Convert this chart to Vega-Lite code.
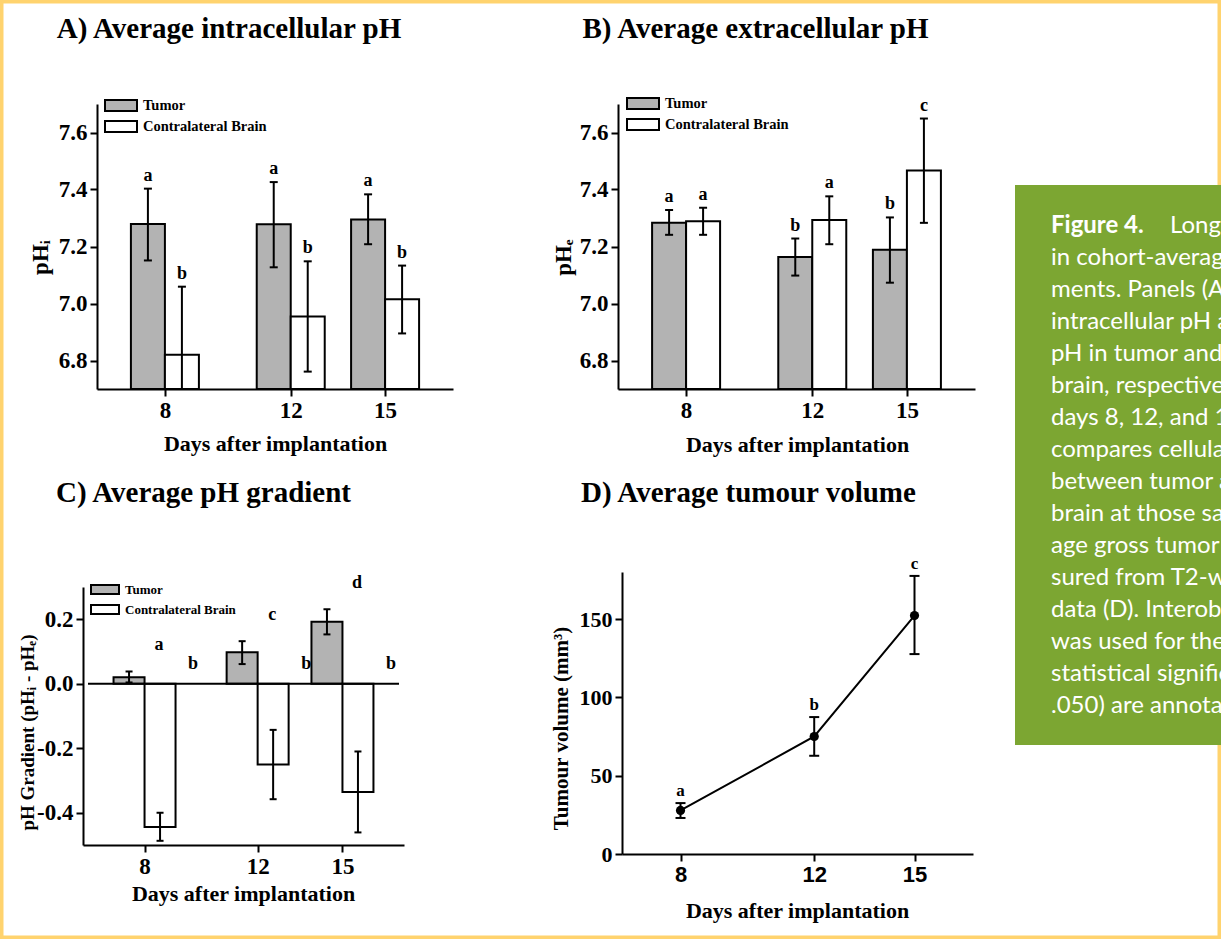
{
  "$schema": "https://vega.github.io/schema/vega-lite/v6.json",
  "width": 1221,
  "height": 939,
  "autosize": "none",
  "padding": 0,
  "background": "white",
  "view": {"stroke": "#ffd36e", "strokeWidth": 7, "fill": "white"},
  "config": {
    "axis": {"grid": false, "domainColor": "black", "domainWidth": 2, "tickColor": "black", "tickWidth": 2, "tickSize": 7, "labelFont": "Liberation Serif", "labelFontWeight": "bold", "labelFontSize": 23, "labelColor": "black", "labelPadding": 3, "labelFlush": false, "labelOverlap": false, "titleFont": "Liberation Serif", "titleFontWeight": "bold", "titleFontSize": 22, "titleColor": "black"},
    "text": {"font": "Liberation Serif", "fontWeight": "bold", "color": "black"}
  },
  "datasets": {
    "phi": [
      {"day": 8, "group": "Tumor", "value": 7.279, "lo": 7.151, "hi": 7.403, "letter": "a"},
      {"day": 8, "group": "Contralateral Brain", "value": 6.82, "lo": 6.581, "hi": 7.059, "letter": "b"},
      {"day": 12, "group": "Tumor", "value": 7.278, "lo": 7.127, "hi": 7.426, "letter": "a"},
      {"day": 12, "group": "Contralateral Brain", "value": 6.954, "lo": 6.761, "hi": 7.148, "letter": "b"},
      {"day": 15, "group": "Tumor", "value": 7.295, "lo": 7.208, "hi": 7.383, "letter": "a"},
      {"day": 15, "group": "Contralateral Brain", "value": 7.015, "lo": 6.895, "hi": 7.133, "letter": "b"}
    ],
    "phe": [
      {"day": 8, "group": "Tumor", "value": 7.283, "lo": 7.241, "hi": 7.328, "letter": "a"},
      {"day": 8, "group": "Contralateral Brain", "value": 7.289, "lo": 7.241, "hi": 7.336, "letter": "a"},
      {"day": 12, "group": "Tumor", "value": 7.163, "lo": 7.098, "hi": 7.228, "letter": "b"},
      {"day": 12, "group": "Contralateral Brain", "value": 7.293, "lo": 7.208, "hi": 7.376, "letter": "a"},
      {"day": 15, "group": "Tumor", "value": 7.189, "lo": 7.073, "hi": 7.302, "letter": "b"},
      {"day": 15, "group": "Contralateral Brain", "value": 7.467, "lo": 7.283, "hi": 7.649, "letter": "c"}
    ],
    "grad": [
      {"day": 8, "group": "Tumor", "value": 0.02, "lo": 0.004, "hi": 0.038, "letter": "a"},
      {"day": 8, "group": "Contralateral Brain", "value": -0.444, "lo": -0.487, "hi": -0.4, "letter": "b"},
      {"day": 12, "group": "Tumor", "value": 0.098, "lo": 0.061, "hi": 0.132, "letter": "c"},
      {"day": 12, "group": "Contralateral Brain", "value": -0.25, "lo": -0.358, "hi": -0.143, "letter": "b"},
      {"day": 15, "group": "Tumor", "value": 0.192, "lo": 0.153, "hi": 0.231, "letter": "d"},
      {"day": 15, "group": "Contralateral Brain", "value": -0.336, "lo": -0.461, "hi": -0.21, "letter": "b"}
    ],
    "vol": [
      {"day": 8, "value": 27.8, "lo": 23.0, "hi": 32.5, "letter": "a"},
      {"day": 12, "value": 75.0, "lo": 62.7, "hi": 87.4, "letter": "b"},
      {"day": 15, "value": 152.2, "lo": 127.6, "hi": 177.5, "letter": "c"}
    ],
    "caption": [
      {"line": 0, "part": "label", "text": "Figure 4."},
      {"line": 0, "part": "lead", "text": "Longitudinal changes"},
      {"line": 1, "part": "body", "text": "in cohort-averaged pH measure-"},
      {"line": 2, "part": "body", "text": "ments. Panels (A) and (B) show"},
      {"line": 3, "part": "body", "text": "intracellular pH and extracellular"},
      {"line": 4, "part": "body", "text": "pH in tumor and contralateral"},
      {"line": 5, "part": "body", "text": "brain, respectively, measured at"},
      {"line": 6, "part": "body", "text": "days 8, 12, and 15. Panel (C)"},
      {"line": 7, "part": "body", "text": "compares cellular pH gradients"},
      {"line": 8, "part": "body", "text": "between tumor and contralateral"},
      {"line": 9, "part": "body", "text": "brain at those same days. Aver-"},
      {"line": 10, "part": "body", "text": "age gross tumor volume mea-"},
      {"line": 11, "part": "body", "text": "sured from T2-weighted MRI"},
      {"line": 12, "part": "body", "text": "data (D). Interobserver agreement"},
      {"line": 13, "part": "body", "text": "was used for the analysis, and"},
      {"line": 14, "part": "body", "text": "statistical significance (p <"},
      {"line": 15, "part": "body", "text": ".050) are annotated with letters."}
    ]
  },
  "layer": [
    {
      "data": {"name": "phi"},
      "layer": [
        {"transform": [{"filter": "datum.group === 'Tumor'"}],
          "mark": {"type": "bar", "orient": "vertical", "width": 34, "xOffset": -17, "stroke": "black", "strokeWidth": 2},
          "encoding": {
            "x": {"field": "day", "type": "quantitative",
              "scale": {"domain": [6, 17], "range": [97, 453], "nice": false, "zero": false},
              "axis": {"orient": "bottom", "offset": -550, "values": [8, 12, 15], "format": "d", "title": "Days after implantation", "titleX": 275, "titleY": 61, "titleAlign": "center", "titleBaseline": "alphabetic", "titleAngle": 0}},
            "y": {"field": "value", "type": "quantitative",
              "scale": {"domain": [6.7, 7.7], "range": [389, 104], "nice": false, "zero": false, "clamp": true},
              "axis": {"orient": "left", "offset": -97, "values": [6.8, 7.0, 7.2, 7.4, 7.6], "format": ".1f", "title": "pHᵢ", "titleX": -50, "titleY": 257, "titleAngle": -90, "titleAlign": "center", "titleBaseline": "alphabetic", "titleFontSize": 23}},
            "y2": {"datum": 6.7},
            "fill": {"field": "group", "type": "nominal",
              "scale": {"domain": ["Tumor", "Contralateral Brain"], "range": ["#b3b3b3", "#ffffff"]},
              "legend": {"orient": "none", "legendX": 104, "legendY": 99, "title": null, "padding": 0, "direction": "vertical", "symbolType": "M-1,-0.344H1V0.344H-1Z", "symbolSize": 1024, "symbolStrokeColor": "black", "symbolStrokeWidth": 2, "clipHeight": 13, "rowPadding": 6, "labelOffset": 5, "labelFont": "Liberation Serif", "labelFontWeight": "bold", "labelFontSize": 14.5, "labelColor": "black"}}
          }},
        {"transform": [{"filter": "datum.group !== 'Tumor'"}],
          "mark": {"type": "bar", "orient": "vertical", "width": 34, "xOffset": 17, "stroke": "black", "strokeWidth": 2},
          "encoding": {"x": {"field": "day", "type": "quantitative"}, "y": {"field": "value", "type": "quantitative"}, "y2": {"datum": 6.7}, "fill": {"field": "group", "type": "nominal"}}},
        {"transform": [{"filter": "datum.group === 'Tumor'"}],
          "mark": {"type": "rule", "xOffset": -17, "strokeWidth": 2, "color": "black"},
          "encoding": {"x": {"field": "day", "type": "quantitative"}, "y": {"field": "lo", "type": "quantitative"}, "y2": {"field": "hi"}}},
        {"transform": [{"filter": "datum.group !== 'Tumor'"}],
          "mark": {"type": "rule", "xOffset": 17, "strokeWidth": 2, "color": "black"},
          "encoding": {"x": {"field": "day", "type": "quantitative"}, "y": {"field": "lo", "type": "quantitative"}, "y2": {"field": "hi"}}},
        {"transform": [{"filter": "datum.group === 'Tumor'"}, {"fold": ["lo", "hi"], "as": ["bound", "ph"]}],
          "mark": {"type": "tick", "orient": "horizontal", "size": 8, "thickness": 2, "xOffset": -17, "color": "black", "opacity": 1},
          "encoding": {"x": {"field": "day", "type": "quantitative"}, "y": {"field": "ph", "type": "quantitative"}}},
        {"transform": [{"filter": "datum.group !== 'Tumor'"}, {"fold": ["lo", "hi"], "as": ["bound", "ph"]}],
          "mark": {"type": "tick", "orient": "horizontal", "size": 8, "thickness": 2, "xOffset": 17, "color": "black", "opacity": 1},
          "encoding": {"x": {"field": "day", "type": "quantitative"}, "y": {"field": "ph", "type": "quantitative"}}},
        {"transform": [{"filter": "datum.group === 'Tumor'"}],
          "mark": {"type": "text", "xOffset": -17, "dy": -13, "baseline": "middle", "align": "center", "fontSize": 18},
          "encoding": {"x": {"field": "day", "type": "quantitative"}, "y": {"field": "hi", "type": "quantitative"}, "text": {"field": "letter"}}},
        {"transform": [{"filter": "datum.group !== 'Tumor'"}],
          "mark": {"type": "text", "xOffset": 17, "dy": -13, "baseline": "middle", "align": "center", "fontSize": 18},
          "encoding": {"x": {"field": "day", "type": "quantitative"}, "y": {"field": "hi", "type": "quantitative"}, "text": {"field": "letter"}}},
        {"data": {"values": [{"title": "A) Average intracellular pH"}]},
          "mark": {"type": "text", "fontSize": 29, "baseline": "alphabetic", "align": "center", "dx": -46, "dy": -66},
          "encoding": {"x": {"datum": 11.5, "type": "quantitative"}, "y": {"datum": 7.7, "type": "quantitative"}, "text": {"field": "title"}}}
      ]
    },
    {
      "data": {"name": "phe"},
      "layer": [
        {"transform": [{"filter": "datum.group === 'Tumor'"}],
          "mark": {"type": "bar", "orient": "vertical", "width": 34, "xOffset": -17, "stroke": "black", "strokeWidth": 2},
          "encoding": {
            "x": {"field": "day", "type": "quantitative",
              "scale": {"domain": [6, 17], "range": [618, 975], "nice": false, "zero": false},
              "axis": {"orient": "bottom", "offset": -550, "values": [8, 12, 15], "format": "d", "title": "Days after implantation", "titleX": 797, "titleY": 62, "titleAlign": "center", "titleBaseline": "alphabetic", "titleAngle": 0}},
            "y": {"field": "value", "type": "quantitative",
              "scale": {"domain": [6.7, 7.7], "range": [389, 104], "nice": false, "zero": false},
              "axis": {"orient": "left", "offset": -618, "values": [6.8, 7.0, 7.2, 7.4, 7.6], "format": ".1f", "title": "pHₑ", "titleX": -48, "titleY": 257, "titleAngle": -90, "titleAlign": "center", "titleBaseline": "alphabetic", "titleFontSize": 23}},
            "y2": {"datum": 6.7},
            "fill": {"field": "group", "type": "nominal",
              "scale": {"domain": ["Tumor", "Contralateral Brain"], "range": ["#b3b3b3", "#ffffff"]},
              "legend": {"orient": "none", "legendX": 626, "legendY": 97, "title": null, "padding": 0, "direction": "vertical", "symbolType": "M-1,-0.344H1V0.344H-1Z", "symbolSize": 1024, "symbolStrokeColor": "black", "symbolStrokeWidth": 2, "clipHeight": 13, "rowPadding": 6, "labelOffset": 5, "labelFont": "Liberation Serif", "labelFontWeight": "bold", "labelFontSize": 14.5, "labelColor": "black"}}
          }},
        {"transform": [{"filter": "datum.group !== 'Tumor'"}],
          "mark": {"type": "bar", "orient": "vertical", "width": 34, "xOffset": 17, "stroke": "black", "strokeWidth": 2},
          "encoding": {"x": {"field": "day", "type": "quantitative"}, "y": {"field": "value", "type": "quantitative"}, "y2": {"datum": 6.7}, "fill": {"field": "group", "type": "nominal"}}},
        {"transform": [{"filter": "datum.group === 'Tumor'"}],
          "mark": {"type": "rule", "xOffset": -17, "strokeWidth": 2, "color": "black"},
          "encoding": {"x": {"field": "day", "type": "quantitative"}, "y": {"field": "lo", "type": "quantitative"}, "y2": {"field": "hi"}}},
        {"transform": [{"filter": "datum.group !== 'Tumor'"}],
          "mark": {"type": "rule", "xOffset": 17, "strokeWidth": 2, "color": "black"},
          "encoding": {"x": {"field": "day", "type": "quantitative"}, "y": {"field": "lo", "type": "quantitative"}, "y2": {"field": "hi"}}},
        {"transform": [{"filter": "datum.group === 'Tumor'"}, {"fold": ["lo", "hi"], "as": ["bound", "ph"]}],
          "mark": {"type": "tick", "orient": "horizontal", "size": 8, "thickness": 2, "xOffset": -17, "color": "black", "opacity": 1},
          "encoding": {"x": {"field": "day", "type": "quantitative"}, "y": {"field": "ph", "type": "quantitative"}}},
        {"transform": [{"filter": "datum.group !== 'Tumor'"}, {"fold": ["lo", "hi"], "as": ["bound", "ph"]}],
          "mark": {"type": "tick", "orient": "horizontal", "size": 8, "thickness": 2, "xOffset": 17, "color": "black", "opacity": 1},
          "encoding": {"x": {"field": "day", "type": "quantitative"}, "y": {"field": "ph", "type": "quantitative"}}},
        {"transform": [{"filter": "datum.group === 'Tumor'"}],
          "mark": {"type": "text", "xOffset": -17, "dy": -13, "baseline": "middle", "align": "center", "fontSize": 18},
          "encoding": {"x": {"field": "day", "type": "quantitative"}, "y": {"field": "hi", "type": "quantitative"}, "text": {"field": "letter"}}},
        {"transform": [{"filter": "datum.group !== 'Tumor'"}],
          "mark": {"type": "text", "xOffset": 17, "dy": -13, "baseline": "middle", "align": "center", "fontSize": 18},
          "encoding": {"x": {"field": "day", "type": "quantitative"}, "y": {"field": "hi", "type": "quantitative"}, "text": {"field": "letter"}}},
        {"data": {"values": [{"title": "B) Average extracellular pH"}]},
          "mark": {"type": "text", "fontSize": 29, "baseline": "alphabetic", "align": "center", "dx": -41, "dy": -66},
          "encoding": {"x": {"datum": 11.5, "type": "quantitative"}, "y": {"datum": 7.7, "type": "quantitative"}, "text": {"field": "title"}}}
      ]
    },
    {
      "data": {"name": "grad"},
      "layer": [
        {"transform": [{"filter": "datum.group === 'Tumor'"}],
          "mark": {"type": "bar", "orient": "vertical", "width": 31, "xOffset": -15.5, "stroke": "black", "strokeWidth": 2},
          "encoding": {
            "x": {"field": "day", "type": "quantitative",
              "scale": {"domain": [6, 17], "range": [83, 404], "nice": false, "zero": false},
              "axis": {"orient": "bottom", "offset": -94, "values": [8, 12, 15], "format": "d", "title": "Days after implantation", "titleX": 243, "titleY": 55, "titleAlign": "center", "titleBaseline": "alphabetic", "titleAngle": 0}},
            "y": {"field": "value", "type": "quantitative",
              "scale": {"domain": [-0.5, 0.3], "range": [845, 587], "nice": false, "zero": false},
              "axis": {"orient": "left", "offset": -83, "values": [-0.4, -0.2, 0, 0.2], "format": ".1f", "labelExpr": "replace(datum.label, '−', '-')", "title": "pH Gradient (pHᵢ - pHₑ)", "titleX": -50, "titleY": 732, "titleAngle": -90, "titleAlign": "center", "titleBaseline": "alphabetic", "titleFontSize": 19}},
            "y2": {"datum": 0},
            "fill": {"field": "group", "type": "nominal",
              "scale": {"domain": ["Tumor", "Contralateral Brain"], "range": ["#b3b3b3", "#ffffff"]},
              "legend": {"orient": "none", "legendX": 90, "legendY": 584, "title": null, "padding": 0, "direction": "vertical", "symbolType": "M-1,-0.321H1V0.321H-1Z", "symbolSize": 784, "symbolStrokeColor": "black", "symbolStrokeWidth": 2, "clipHeight": 11, "rowPadding": 6, "labelOffset": 5, "labelFont": "Liberation Serif", "labelFontWeight": "bold", "labelFontSize": 13, "labelColor": "black"}}
          }},
        {"transform": [{"filter": "datum.group !== 'Tumor'"}],
          "mark": {"type": "bar", "orient": "vertical", "width": 31, "xOffset": 15.5, "stroke": "black", "strokeWidth": 2},
          "encoding": {"x": {"field": "day", "type": "quantitative"}, "y": {"field": "value", "type": "quantitative"}, "y2": {"datum": 0}, "fill": {"field": "group", "type": "nominal"}}},
        {"data": {"values": [{"baseline": 0}]},
          "mark": {"type": "rule", "strokeWidth": 2, "color": "black"},
          "encoding": {"x": {"datum": 6, "type": "quantitative"}, "x2": {"datum": 17}, "y": {"field": "baseline", "type": "quantitative"}}},
        {"transform": [{"filter": "datum.group === 'Tumor'"}],
          "mark": {"type": "rule", "xOffset": -15.5, "strokeWidth": 2, "color": "black"},
          "encoding": {"x": {"field": "day", "type": "quantitative"}, "y": {"field": "lo", "type": "quantitative"}, "y2": {"field": "hi"}}},
        {"transform": [{"filter": "datum.group !== 'Tumor'"}],
          "mark": {"type": "rule", "xOffset": 15.5, "strokeWidth": 2, "color": "black"},
          "encoding": {"x": {"field": "day", "type": "quantitative"}, "y": {"field": "lo", "type": "quantitative"}, "y2": {"field": "hi"}}},
        {"transform": [{"filter": "datum.group === 'Tumor'"}, {"fold": ["lo", "hi"], "as": ["bound", "ph"]}],
          "mark": {"type": "tick", "orient": "horizontal", "size": 7, "thickness": 2, "xOffset": -15.5, "color": "black", "opacity": 1},
          "encoding": {"x": {"field": "day", "type": "quantitative"}, "y": {"field": "ph", "type": "quantitative"}}},
        {"transform": [{"filter": "datum.group !== 'Tumor'"}, {"fold": ["lo", "hi"], "as": ["bound", "ph"]}],
          "mark": {"type": "tick", "orient": "horizontal", "size": 7, "thickness": 2, "xOffset": 15.5, "color": "black", "opacity": 1},
          "encoding": {"x": {"field": "day", "type": "quantitative"}, "y": {"field": "ph", "type": "quantitative"}}},
        {"transform": [{"filter": "datum.group === 'Tumor'"}],
          "mark": {"type": "text", "xOffset": -15.5, "dx": 30, "dy": -26, "baseline": "middle", "align": "center", "fontSize": 18},
          "encoding": {"x": {"field": "day", "type": "quantitative"}, "y": {"field": "hi", "type": "quantitative"}, "text": {"field": "letter"}}},
        {"transform": [{"filter": "datum.group !== 'Tumor'"}],
          "mark": {"type": "text", "xOffset": 15.5, "dx": 33, "dy": -20, "baseline": "middle", "align": "center", "fontSize": 18},
          "encoding": {"x": {"field": "day", "type": "quantitative"}, "y": {"datum": 0, "type": "quantitative"}, "text": {"field": "letter"}}},
        {"data": {"values": [{"title": "C) Average pH gradient"}]},
          "mark": {"type": "text", "fontSize": 29, "baseline": "alphabetic", "align": "center", "dx": -40, "dy": -85},
          "encoding": {"x": {"datum": 11.5, "type": "quantitative"}, "y": {"datum": 0.3, "type": "quantitative"}, "text": {"field": "title"}}}
      ]
    },
    {
      "data": {"name": "vol"},
      "layer": [
        {"mark": {"type": "line", "color": "black", "strokeWidth": 2},
          "encoding": {
            "x": {"field": "day", "type": "quantitative",
              "scale": {"domain": [6.25, 16.75], "range": [622, 973], "nice": false, "zero": false},
              "axis": {"orient": "bottom", "offset": -85, "values": [8, 12, 15], "format": "d", "labelFont": "Liberation Sans", "labelFontSize": 22, "title": "Days after implantation", "titleX": 797, "titleY": 63, "titleAlign": "center", "titleBaseline": "alphabetic", "titleAngle": 0}},
            "y": {"field": "value", "type": "quantitative",
              "scale": {"domain": [0, 180], "range": [854, 572], "nice": false, "zero": false},
              "axis": {"orient": "left", "offset": -622, "values": [0, 50, 100, 150], "format": "d", "labelFontSize": 22, "title": "Tumour volume (mm³)", "titleX": -55, "titleY": 728, "titleAngle": -90, "titleAlign": "center", "titleBaseline": "alphabetic", "titleFontSize": 21}}
          }},
        {"mark": {"type": "rule", "strokeWidth": 2, "color": "black"},
          "encoding": {"x": {"field": "day", "type": "quantitative"}, "y": {"field": "lo", "type": "quantitative"}, "y2": {"field": "hi"}}},
        {"transform": [{"fold": ["lo", "hi"], "as": ["bound", "vol"]}],
          "mark": {"type": "tick", "orient": "horizontal", "size": 10, "thickness": 2, "color": "black", "opacity": 1},
          "encoding": {"x": {"field": "day", "type": "quantitative"}, "y": {"field": "vol", "type": "quantitative"}}},
        {"mark": {"type": "point", "filled": true, "size": 85, "color": "black", "opacity": 1},
          "encoding": {"x": {"field": "day", "type": "quantitative"}, "y": {"field": "value", "type": "quantitative"}}},
        {"mark": {"type": "text", "dy": -12, "baseline": "middle", "align": "center", "fontSize": 17},
          "encoding": {"x": {"field": "day", "type": "quantitative"}, "y": {"field": "hi", "type": "quantitative"}, "text": {"field": "letter"}}},
        {"data": {"values": [{"title": "D) Average tumour volume"}]},
          "mark": {"type": "text", "fontSize": 29, "baseline": "alphabetic", "align": "center", "dx": -49, "dy": -70},
          "encoding": {"x": {"datum": 11.5, "type": "quantitative"}, "y": {"datum": 180, "type": "quantitative"}, "text": {"field": "title"}}}
      ]
    },
    {
      "layer": [
        {"data": {"values": [{"box": "caption"}]},
          "mark": {"type": "rect", "fill": "#7ca632"},
          "encoding": {
            "x": {"datum": -0.18, "type": "quantitative", "scale": {"domain": [0, 1], "range": [1051, 1251], "nice": false, "zero": false}, "axis": null},
            "x2": {"datum": 1},
            "y": {"datum": -1.5, "type": "quantitative", "scale": {"domain": [-1.5, 16], "range": [185, 745], "nice": false, "zero": false}, "axis": null},
            "y2": {"datum": 16}
          }},
        {"data": {"name": "caption"}, "transform": [{"filter": "datum.part === 'label'"}],
          "mark": {"type": "text", "align": "left", "baseline": "alphabetic", "font": "Lato", "fontSize": 24, "fontWeight": "bold", "color": "white"},
          "encoding": {"x": {"datum": 0, "type": "quantitative", "axis": null}, "y": {"field": "line", "type": "quantitative", "axis": null}, "text": {"field": "text"}}},
        {"data": {"name": "caption"}, "transform": [{"filter": "datum.part === 'lead'"}],
          "mark": {"type": "text", "align": "left", "baseline": "alphabetic", "font": "Lato", "fontSize": 24, "fontWeight": "normal", "color": "white", "dx": 119},
          "encoding": {"x": {"datum": 0, "type": "quantitative", "axis": null}, "y": {"field": "line", "type": "quantitative", "axis": null}, "text": {"field": "text"}}},
        {"data": {"name": "caption"}, "transform": [{"filter": "datum.part === 'body'"}],
          "mark": {"type": "text", "align": "left", "baseline": "alphabetic", "font": "Lato", "fontSize": 24, "fontWeight": "normal", "color": "white"},
          "encoding": {"x": {"datum": 0, "type": "quantitative", "axis": null}, "y": {"field": "line", "type": "quantitative", "axis": null}, "text": {"field": "text"}}}
      ]
    }
  ],
  "resolve": {
    "scale": {"x": "independent", "y": "independent", "fill": "independent"},
    "axis": {"x": "independent", "y": "independent"},
    "legend": {"fill": "independent"}
  }
}
